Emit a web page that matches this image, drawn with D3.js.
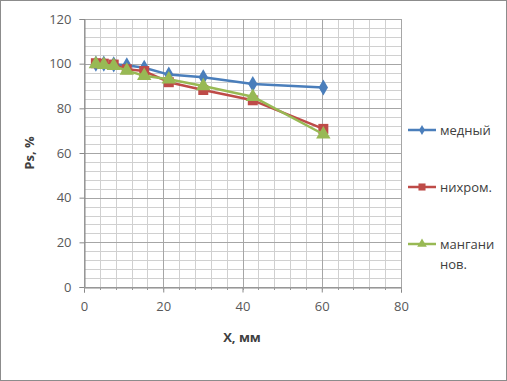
<!DOCTYPE html>
<html><head><meta charset="utf-8">
<script src="https://cdn.jsdelivr.net/npm/d3@7"></script>
<style>body{margin:0;background:#fff;}svg{display:block;font-family:"Open Sans","Liberation Sans",sans-serif;}</style>
</head><body><svg id="c" width="507" height="381"></svg>
<script>
const xCopper = [3, 5, 7.5, 10.8, 15.2, 21.4, 30.1, 42.6, 60.4];
const yCopper = [100, 100, 99.7, 99.3, 98.2, 95.1, 93.9, 90.9, 89.3];
const xNichrome = [3, 5, 7.5, 10.8, 15.2, 21.4, 30.1, 42.6, 60.4];
const yNichrome = [100.2, 100, 99.6, 97.5, 96.7, 91.7, 88.2, 83.6, 70.8];
const xMangan = [3, 5, 7.5, 10.8, 15.2, 21.4, 30.1, 42.6, 60.4];
const yMangan = [99.8, 99.5, 99, 96.9, 94.6, 93.0, 90.0, 85.2, 68.4];
const seriesNames = ["медный", "нихром.", "манганин нов."];
const xTicks = [0, 20, 40, 60, 80];
const yTicks = [0, 20, 40, 60, 80, 100, 120];
const xTitle = "X, мм";
const yTitle = "Ps, %";

const svg = d3.select("#c");
svg.append("rect").attr("x",0.5).attr("y",0.5).attr("width",506).attr("height",380)
  .attr("fill","#fff").attr("stroke","#8c8c8c").attr("stroke-width",1);

const x = d3.scaleLinear().domain([0,80]).range([84,401]);
const y = d3.scaleLinear().domain([0,120]).range([287,19]);

const g = svg.append("g");
const minorX = d3.range(0,81,4), minorY = d3.range(0,121,4);
g.selectAll(".mx").data(minorX).join("line")
  .attr("x1",d=>Math.round(x(d))+0.5).attr("x2",d=>Math.round(x(d))+0.5)
  .attr("y1",y(120)).attr("y2",y(0)).attr("stroke","#d0d0d0").attr("stroke-width",1);
g.selectAll(".my").data(minorY).join("line")
  .attr("y1",d=>Math.round(y(d))+0.5).attr("y2",d=>Math.round(y(d))+0.5)
  .attr("x1",x(0)).attr("x2",x(80)).attr("stroke","#d0d0d0").attr("stroke-width",1);
g.selectAll(".Mx").data(xTicks).join("line")
  .attr("x1",d=>Math.round(x(d))+0.5).attr("x2",d=>Math.round(x(d))+0.5)
  .attr("y1",y(120)).attr("y2",y(0)).attr("stroke","#a6a6a6").attr("stroke-width",1);
g.selectAll(".My").data(yTicks).join("line")
  .attr("y1",d=>Math.round(y(d))+0.5).attr("y2",d=>Math.round(y(d))+0.5)
  .attr("x1",x(0)).attr("x2",x(80)).attr("stroke","#a6a6a6").attr("stroke-width",1);

const xa = svg.append("g").attr("transform","translate(0,287.5)")
  .call(d3.axisBottom(x).tickValues(xTicks).tickSize(5).tickPadding(9));
const ya = svg.append("g").attr("transform","translate(84.5,0)")
  .call(d3.axisLeft(y).tickValues(yTicks).tickSize(5).tickPadding(8));
[xa,ya].forEach(a=>{
  a.select(".domain").attr("stroke","#888");
  a.selectAll(".tick line").attr("stroke","#888");
  a.selectAll("text").attr("fill","#595959").style("font-size","13px").style("font-family","'Open Sans',sans-serif");
});
svg.append("g").selectAll("line").data(minorX).join("line")
  .attr("x1",d=>Math.round(x(d))+0.5).attr("x2",d=>Math.round(x(d))+0.5)
  .attr("y1",287).attr("y2",290).attr("stroke","#999");

svg.append("text").attr("x",242).attr("y",342).attr("text-anchor","middle")
  .attr("fill","#404040").style("font-size","13px").style("font-weight","bold").text(xTitle);
svg.append("text").attr("transform","translate(34,153) rotate(-90)").attr("text-anchor","middle")
  .attr("fill","#404040").style("font-size","13px").style("font-weight","bold").text(yTitle);

const colors = ["#4a7ebb","#be4b48","#98b954"];
const data = [
  xCopper.map((v,i)=>[v,yCopper[i]]),
  xNichrome.map((v,i)=>[v,yNichrome[i]]),
  xMangan.map((v,i)=>[v,yMangan[i]])
];
const shapes = [d3.symbolDiamond, d3.symbolSquare, d3.symbolTriangle];
const sizes = [75, 100, 90];
const line = d3.line().x(d=>x(d[0])).y(d=>y(d[1]));
[0,1,2].forEach(i=>{
  svg.append("path").datum(data[i]).attr("d",line).attr("fill","none")
    .attr("stroke",colors[i]).attr("stroke-width",2.5).attr("stroke-linejoin","round");
  svg.append("g").selectAll("path").data(data[i]).join("path")
    .attr("transform",d=>`translate(${x(d[0])},${y(d[1])})`)
    .attr("d",d3.symbol(shapes[i],sizes[i])).attr("fill",colors[i]);
});

const legY = [130, 187, 244];
seriesNames.forEach((n,i)=>{
  const lg = svg.append("g");
  lg.append("line").attr("x1",408).attr("x2",436).attr("y1",legY[i]).attr("y2",legY[i])
    .attr("stroke",colors[i]).attr("stroke-width",2.5);
  lg.append("path").attr("transform",`translate(422,${legY[i]})`)
    .attr("d",d3.symbol(shapes[i],i===0?30:(i===1?50:40))).attr("fill",colors[i]);
  const t = lg.append("text").attr("x",440).attr("y",legY[i]+5)
    .attr("fill","#404040").style("font-size","13px");
  if (i===2) {
    t.append("tspan").attr("x",440).text("мангани");
    t.append("tspan").attr("x",440).attr("dy",20).text("нов.");
  } else t.text(n);
});
</script></body></html>
